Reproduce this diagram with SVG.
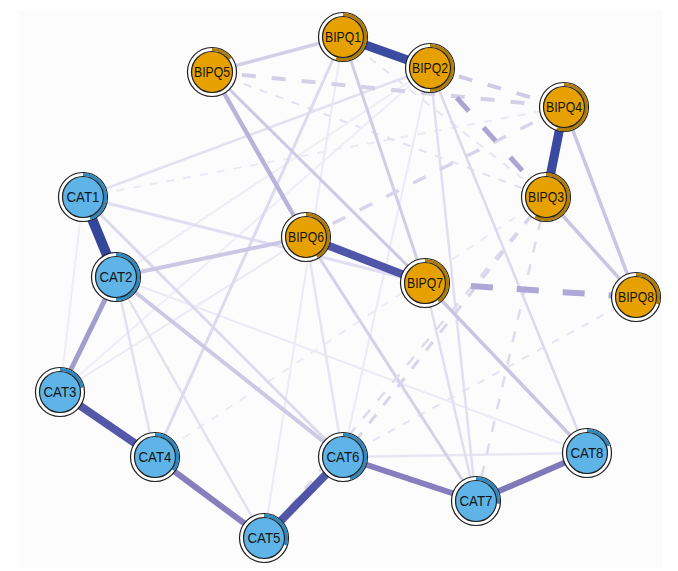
<svg xmlns="http://www.w3.org/2000/svg" width="678" height="571" viewBox="0 0 678 571">
<style>
.e{fill:none;stroke-linecap:butt}
.d6{stroke-dasharray:22 24}
.d5{stroke-dasharray:18 22}
.d4{stroke-dasharray:14 16}
.d3{stroke-dasharray:11 12}
.d2{stroke-dasharray:8 9}
.ring{fill:#fff;stroke:#1e1e1e;stroke-width:1.2}
.core{stroke:#1e1e1e;stroke-width:1.2}
.bq .core{fill:#E6A100}
.ct .core{fill:#5EB4E6}
.arc{fill:none;stroke-width:3.2}
.bq .arc{stroke:#AF7C0A}
.ct .arc{stroke:#2F88BF}
text{font-family:"Liberation Sans",Arial,sans-serif;font-size:14.5px;fill:#151515;text-anchor:middle}
</style>
<rect x="0" y="0" width="678" height="571" fill="#fff"/>
<rect x="18" y="10" width="645" height="558" fill="#fcfcfc"/>
<g id="edges">
<line class="e d2" x1="83" y1="197" x2="564" y2="107" stroke="#ebeaf4" stroke-width="2"/>
<line class="e d2" x1="212" y1="72" x2="546" y2="197" stroke="#e3e1f0" stroke-width="2"/>
<line class="e d2" x1="343" y1="37" x2="546" y2="197" stroke="#e6e4f2" stroke-width="2"/>
<line class="e d2" x1="155" y1="457" x2="546" y2="197" stroke="#ecebf5" stroke-width="2"/>
<line class="e d2" x1="343" y1="457" x2="636" y2="297" stroke="#e6e4f2" stroke-width="2"/>
<line class="e" x1="83" y1="197" x2="60" y2="392" stroke="#efeef7" stroke-width="2"/>
<line class="e" x1="116" y1="277" x2="430" y2="68" stroke="#eeedf6" stroke-width="2"/>
<line class="e" x1="116" y1="277" x2="587" y2="453" stroke="#ecebf5" stroke-width="2"/>
<line class="e" x1="60" y1="392" x2="306" y2="237" stroke="#ecebf5" stroke-width="2"/>
<line class="e" x1="60" y1="392" x2="430" y2="68" stroke="#efeef7" stroke-width="2"/>
<line class="e" x1="264" y1="538" x2="343" y2="37" stroke="#ebeaf5" stroke-width="2"/>
<line class="e" x1="430" y1="68" x2="343" y2="457" stroke="#eceaf5" stroke-width="2"/>
<line class="e" x1="306" y1="237" x2="343" y2="457" stroke="#e6e4f2" stroke-width="2.5"/>
<line class="e" x1="343" y1="457" x2="587" y2="453" stroke="#e8e6f3" stroke-width="2.5"/>
<line class="e" x1="425" y1="283" x2="476" y2="501" stroke="#e0def0" stroke-width="2.5"/>
<line class="e" x1="116" y1="277" x2="155" y2="457" stroke="#e3e1f0" stroke-width="2.5"/>
<line class="e" x1="116" y1="277" x2="264" y2="538" stroke="#e3e1f0" stroke-width="2.5"/>
<line class="e" x1="430" y1="68" x2="83" y2="197" stroke="#e3e1f0" stroke-width="2.5"/>
<line class="e" x1="430" y1="68" x2="476" y2="501" stroke="#e2e0f0" stroke-width="2.5"/>
<line class="e" x1="430" y1="68" x2="587" y2="453" stroke="#dcd9ed" stroke-width="2.5"/>
<line class="e" x1="83" y1="197" x2="425" y2="283" stroke="#e0def0" stroke-width="3"/>
<line class="e" x1="83" y1="197" x2="343" y2="457" stroke="#dcd9ed" stroke-width="3"/>
<line class="e" x1="343" y1="37" x2="155" y2="457" stroke="#dcdaee" stroke-width="3"/>
<line class="e" x1="306" y1="237" x2="476" y2="501" stroke="#d4d1e8" stroke-width="3"/>
<line class="e d3" x1="546" y1="197" x2="264" y2="538" stroke="#dedbee" stroke-width="2.5"/>
<line class="e d3" x1="546" y1="197" x2="343" y2="457" stroke="#d8d5eb" stroke-width="3"/>
<line class="e d3" x1="546" y1="197" x2="476" y2="501" stroke="#dedbee" stroke-width="2.5"/>
<line class="e" x1="343" y1="37" x2="425" y2="283" stroke="#d0cde6" stroke-width="3"/>
<line class="e" x1="212" y1="72" x2="425" y2="283" stroke="#cdc9e4" stroke-width="3"/>
<line class="e" x1="212" y1="72" x2="343" y2="37" stroke="#d2cfe7" stroke-width="3.5"/>
<line class="e d4" x1="306" y1="237" x2="564" y2="107" stroke="#d6d3ea" stroke-width="3.5"/>
<line class="e d4" x1="212" y1="72" x2="564" y2="107" stroke="#d3d0e8" stroke-width="4"/>
<line class="e d4" x1="430" y1="68" x2="564" y2="107" stroke="#cfcbe6" stroke-width="4"/>
<line class="e" x1="546" y1="197" x2="636" y2="297" stroke="#c9c5e2" stroke-width="3.5"/>
<line class="e" x1="564" y1="107" x2="636" y2="297" stroke="#c9c5e2" stroke-width="3.5"/>
<line class="e" x1="425" y1="283" x2="587" y2="453" stroke="#c9c5e2" stroke-width="3.5"/>
<line class="e" x1="116" y1="277" x2="306" y2="237" stroke="#cbc7e4" stroke-width="4"/>
<line class="e" x1="116" y1="277" x2="343" y2="457" stroke="#cdc9e4" stroke-width="4"/>
<line class="e" x1="212" y1="72" x2="306" y2="237" stroke="#b8b3da" stroke-width="4.5"/>
<line class="e d5" x1="430" y1="68" x2="546" y2="197" stroke="#aaa5d3" stroke-width="5"/>
<line class="e d6" x1="425" y1="283" x2="636" y2="297" stroke="#ada8d5" stroke-width="6"/>
<line class="e" x1="116" y1="277" x2="60" y2="392" stroke="#a19dcd" stroke-width="5"/>
<line class="e" x1="155" y1="457" x2="264" y2="538" stroke="#877ebd" stroke-width="6"/>
<line class="e" x1="343" y1="457" x2="476" y2="501" stroke="#877ebd" stroke-width="6"/>
<line class="e" x1="476" y1="501" x2="587" y2="453" stroke="#7f78b9" stroke-width="6"/>
<line class="e" x1="60" y1="392" x2="155" y2="457" stroke="#5557a8" stroke-width="8"/>
<line class="e" x1="264" y1="538" x2="343" y2="457" stroke="#5255a7" stroke-width="8"/>
<line class="e" x1="306" y1="237" x2="425" y2="283" stroke="#4f55a8" stroke-width="8"/>
<line class="e" x1="343" y1="37" x2="430" y2="68" stroke="#3b4ba0" stroke-width="9"/>
<line class="e" x1="564" y1="107" x2="546" y2="197" stroke="#3a4aa0" stroke-width="9"/>
<line class="e" x1="83" y1="197" x2="116" y2="277" stroke="#34479b" stroke-width="10"/>
</g>
<g id="BIPQ1" class="bq" transform="translate(343,37)"><circle class="ring" r="24.5"/><path class="arc" d="M0,-22.5A22.5,22.5 0 1 1 -6.95,21.4"/><circle class="core" r="20.5"/><text y="5.2" textLength="36" lengthAdjust="spacingAndGlyphs">BIPQ1</text></g>
<g id="BIPQ2" class="bq" transform="translate(430,68)"><circle class="ring" r="24.5"/><path class="arc" d="M0,-22.5A22.5,22.5 0 0 1 0,22.5"/><circle class="core" r="20.5"/><text y="5.2" textLength="36" lengthAdjust="spacingAndGlyphs">BIPQ2</text></g>
<g id="BIPQ3" class="bq" transform="translate(546,197)"><circle class="ring" r="24.5"/><path class="arc" d="M0,-22.5A22.5,22.5 0 1 1 -10.84,19.71"/><circle class="core" r="20.5"/><text y="5.2" textLength="36" lengthAdjust="spacingAndGlyphs">BIPQ3</text></g>
<g id="BIPQ4" class="bq" transform="translate(564,107)"><circle class="ring" r="24.5"/><path class="arc" d="M0,-22.5A22.5,22.5 0 1 1 -6.95,21.4"/><circle class="core" r="20.5"/><text y="5.2" textLength="36" lengthAdjust="spacingAndGlyphs">BIPQ4</text></g>
<g id="BIPQ5" class="bq" transform="translate(212,72)"><circle class="ring" r="24.5"/><path class="arc" d="M0,-22.5A22.5,22.5 0 0 1 18.2,-13.22"/><circle class="core" r="20.5"/><text y="5.2" textLength="36" lengthAdjust="spacingAndGlyphs">BIPQ5</text></g>
<g id="BIPQ6" class="bq" transform="translate(306,237)"><circle class="ring" r="24.5"/><path class="arc" d="M0,-22.5A22.5,22.5 0 0 1 10.84,19.71"/><circle class="core" r="20.5"/><text y="5.2" textLength="36" lengthAdjust="spacingAndGlyphs">BIPQ6</text></g>
<g id="BIPQ7" class="bq" transform="translate(425,283)"><circle class="ring" r="24.5"/><path class="arc" d="M0,-22.5A22.5,22.5 0 0 1 13.22,18.2"/><circle class="core" r="20.5"/><text y="5.2" textLength="36" lengthAdjust="spacingAndGlyphs">BIPQ7</text></g>
<g id="BIPQ8" class="bq" transform="translate(636,297)"><circle class="ring" r="24.5"/><path class="arc" d="M0,-22.5A22.5,22.5 0 0 1 21.4,6.95"/><circle class="core" r="20.5"/><text y="5.2" textLength="36" lengthAdjust="spacingAndGlyphs">BIPQ8</text></g>
<g id="CAT1" class="ct" transform="translate(83,197)"><circle class="ring" r="24.5"/><path class="arc" d="M0,-22.5A22.5,22.5 0 0 1 6.95,21.4"/><circle class="core" r="20.5"/><text y="5.2" textLength="33" lengthAdjust="spacingAndGlyphs">CAT1</text></g>
<g id="CAT2" class="ct" transform="translate(116,277)"><circle class="ring" r="24.5"/><path class="arc" d="M0,-22.5A22.5,22.5 0 0 1 0,22.5"/><circle class="core" r="20.5"/><text y="5.2" textLength="33" lengthAdjust="spacingAndGlyphs">CAT2</text></g>
<g id="CAT3" class="ct" transform="translate(60,392)"><circle class="ring" r="24.5"/><path class="arc" d="M0,-22.5A22.5,22.5 0 0 1 22.1,-4.21"/><circle class="core" r="20.5"/><text y="5.2" textLength="33" lengthAdjust="spacingAndGlyphs">CAT3</text></g>
<g id="CAT4" class="ct" transform="translate(155,457)"><circle class="ring" r="24.5"/><path class="arc" d="M0,-22.5A22.5,22.5 0 0 1 18.2,13.22"/><circle class="core" r="20.5"/><text y="5.2" textLength="33" lengthAdjust="spacingAndGlyphs">CAT4</text></g>
<g id="CAT5" class="ct" transform="translate(264,538)"><circle class="ring" r="24.5"/><path class="arc" d="M0,-22.5A22.5,22.5 0 0 1 21.4,6.95"/><circle class="core" r="20.5"/><text y="5.2" textLength="33" lengthAdjust="spacingAndGlyphs">CAT5</text></g>
<g id="CAT6" class="ct" transform="translate(343,457)"><circle class="ring" r="24.5"/><path class="arc" d="M0,-22.5A22.5,22.5 0 0 1 6.95,21.4"/><circle class="core" r="20.5"/><text y="5.2" textLength="33" lengthAdjust="spacingAndGlyphs">CAT6</text></g>
<g id="CAT7" class="ct" transform="translate(476,501)"><circle class="ring" r="24.5"/><path class="arc" d="M0,-22.5A22.5,22.5 0 0 1 22.32,2.82"/><circle class="core" r="20.5"/><text y="5.2" textLength="33" lengthAdjust="spacingAndGlyphs">CAT7</text></g>
<g id="CAT8" class="ct" transform="translate(587,453)"><circle class="ring" r="24.5"/><path class="arc" d="M0,-22.5A22.5,22.5 0 0 1 21.4,-6.95"/><circle class="core" r="20.5"/><text y="5.2" textLength="33" lengthAdjust="spacingAndGlyphs">CAT8</text></g>
</svg>
